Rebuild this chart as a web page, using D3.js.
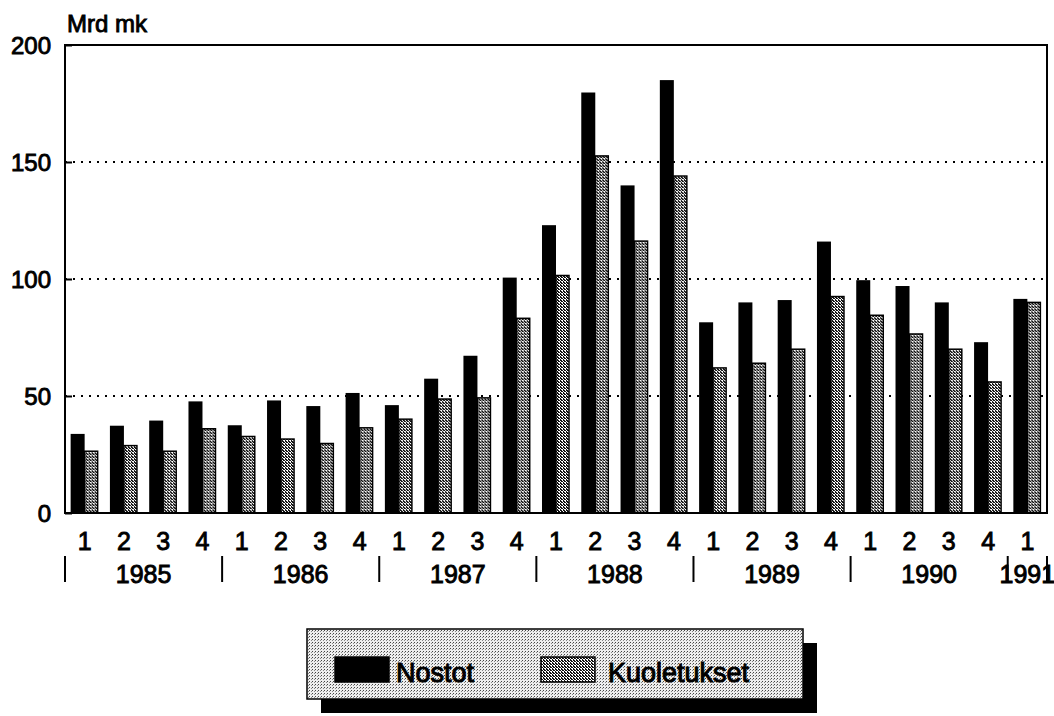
<!DOCTYPE html>
<html>
<head>
<meta charset="utf-8">
<script src="https://cdn.jsdelivr.net/npm/d3@7"></script>
<style>
  body { margin: 0; background: #fff; }
  text { font-family: "Liberation Sans", Arial, Helvetica, sans-serif; fill: #000; }
</style>
</head>
<body>
<script>
//chart values
var years = ['1985', '1986', '1987', '1988', '1989', '1990', '1991'];
var quarters = ['1', '2', '3', '4', '1', '2', '3', '4', '1', '2', '3', '4', '1', '2', '3', '4',
                '1', '2', '3', '4', '1', '2', '3', '4', '1'];
var nostot = [33.8, 37.3, 39.5, 47.7, 37.5, 48.1, 45.7, 51.3, 46.1, 57.4, 67.2, 100.6,
              123, 179.7, 140, 185, 81.5, 90, 91, 116, 99.5, 97, 90, 73, 91.5];
var kuoletukset = [26.4, 28.8, 26.4, 36, 32.7, 31.6, 29.7, 36.4, 40.1, 48.7, 49.2, 83.2,
                   101.5, 152.6, 116.2, 144, 62, 64, 70, 92.5, 84.5, 76.5, 70, 56, 90];
var yTicks = [0, 50, 100, 150, 200];
var seriesNames = ['Nostot', 'Kuoletukset'];
var unitLabel = 'Mrd mk';

//declare width, height, plot box
var width = 1054,
    height = 716,
    plotL = 65,
    plotR = 1047,
    plotT = 45,
    plotB = 513,
    ink = 0.9;

var svg = d3.select('body').append('svg')
    .attr('width', width)
    .attr('height', height);

//fill patterns: dithered bars and legend background
var defs = svg.append('defs');
var checker = defs.append('pattern')
    .attr('id', 'checker')
    .attr('patternUnits', 'userSpaceOnUse')
    .attr('width', 3).attr('height', 3);
checker.append('rect').attr('width', 3).attr('height', 3).attr('fill', '#fff');
checker.append('rect').attr('x', 0).attr('y', 0).attr('width', 2).attr('height', 1).attr('fill', '#111');
checker.append('rect').attr('x', 1).attr('y', 1).attr('width', 2).attr('height', 1).attr('fill', '#111');
checker.append('rect').attr('x', 0).attr('y', 2).attr('width', 1).attr('height', 1).attr('fill', '#111');

var dots = defs.append('pattern')
    .attr('id', 'dots')
    .attr('patternUnits', 'userSpaceOnUse')
    .attr('width', 3).attr('height', 3);
dots.append('rect').attr('width', 3).attr('height', 3).attr('fill', '#eee');
dots.append('rect').attr('x', 0).attr('y', 0).attr('width', 1).attr('height', 1).attr('fill', '#444');
dots.append('rect').attr('x', 2).attr('y', 1).attr('width', 1).attr('height', 1).attr('fill', '#888');

//scales
var idx = d3.range(quarters.length);
var x0 = d3.scaleBand()
    .domain(idx)
    .range([plotL, plotR])
    .paddingInner(0.287)
    .paddingOuter(0.1435);
var x1 = d3.scaleBand()
    .domain(seriesNames)
    .range([0, x0.bandwidth()]);
var y = d3.scaleLinear()
    .domain([0, 200])
    .range([plotB, plotT]);
var step = x0.step();

//dotted grid lines
svg.append('g').selectAll('line')
    .data([50, 100, 150])
    .enter().append('line')
    .attr('x1', plotL).attr('x2', plotR)
    .attr('y1', function(d){ return y(d); })
    .attr('y2', function(d){ return y(d); })
    .attr('stroke', '#000')
    .attr('stroke-width', 2)
    .attr('stroke-dasharray', '2,6');

//bars
var groups = svg.append('g').selectAll('g')
    .data(idx)
    .enter().append('g')
    .attr('transform', function(i){ return 'translate(' + x0(i) + ',0)'; });

groups.append('rect')
    .attr('x', x1('Nostot'))
    .attr('width', x1.bandwidth())
    .attr('y', function(i){ return y(nostot[i]); })
    .attr('height', function(i){ return plotB - y(nostot[i]); })
    .attr('fill', '#000');

groups.append('rect')
    .attr('x', x1('Kuoletukset'))
    .attr('width', x1.bandwidth() - 1)
    .attr('y', function(i){ return y(kuoletukset[i]); })
    .attr('height', function(i){ return plotB - y(kuoletukset[i]); })
    .attr('fill', 'url(#checker)')
    .attr('stroke', '#000')
    .attr('stroke-width', 1.5);

//frame round the plot
svg.append('rect')
    .attr('x', plotL).attr('y', plotT)
    .attr('width', plotR - plotL).attr('height', plotB - plotT)
    .attr('fill', 'none')
    .attr('stroke', '#000')
    .attr('stroke-width', 2);

//y axis
var yAxis = d3.axisLeft(y)
    .tickValues(yTicks)
    .tickSize(-7)
    .tickPadding(14)
    .tickFormat(d3.format('d'));
var ya = svg.append('g')
    .attr('transform', 'translate(' + plotL + ',0)')
    .call(yAxis);
ya.select('.domain').remove();
ya.selectAll('line').attr('stroke', '#000').attr('stroke-width', 2);
ya.selectAll('text')
    .style('font-size', '24px')
    .attr('dy', '0.36em')
    .attr('stroke', '#000')
    .attr('stroke-width', ink);

svg.append('text')
    .attr('x', 67).attr('y', 32)
    .style('font-size', '24px')
    .attr('stroke', '#000')
    .attr('stroke-width', ink)
    .text(unitLabel);

//quarter labels
svg.append('g').selectAll('text')
    .data(idx)
    .enter().append('text')
    .attr('x', function(i){ return x0(i) + x0.bandwidth() / 2; })
    .attr('y', 550)
    .attr('text-anchor', 'middle')
    .style('font-size', '25px')
    .attr('stroke', '#000')
    .attr('stroke-width', ink)
    .text(function(i){ return quarters[i]; });

//year labels and separators
svg.append('g').selectAll('text')
    .data(years)
    .enter().append('text')
    .attr('x', function(d, k){
      var n = Math.min(4, quarters.length - k * 4);
      return plotL + step * (k * 4 + n / 2);
    })
    .attr('y', 583)
    .attr('text-anchor', 'middle')
    .style('font-size', '25px')
    .attr('stroke', '#000')
    .attr('stroke-width', ink)
    .text(function(d){ return d; });

var seps = d3.range(years.length).map(function(k){ return plotL + step * k * 4; });
seps.push(plotR);
svg.append('g').selectAll('line')
    .data(seps)
    .enter().append('line')
    .attr('x1', function(d){ return d; })
    .attr('x2', function(d){ return d; })
    .attr('y1', 556).attr('y2', 582)
    .attr('stroke', '#000')
    .attr('stroke-width', 2);

//legend with drop shadow
var lg = svg.append('g');
lg.append('rect')
    .attr('x', 321).attr('y', 643)
    .attr('width', 496).attr('height', 70)
    .attr('fill', '#000');
lg.append('rect')
    .attr('x', 307).attr('y', 629)
    .attr('width', 496).attr('height', 70)
    .attr('fill', 'url(#dots)')
    .attr('stroke', '#000')
    .attr('stroke-width', 1.5);

var legendItems = [
  { name: seriesNames[0], sx: 335, tx: 396, fill: '#000' },
  { name: seriesNames[1], sx: 541, tx: 608, fill: 'url(#checker)' }
];
lg.selectAll('.sw')
    .data(legendItems)
    .enter().append('rect')
    .attr('class', 'sw')
    .attr('x', function(d){ return d.sx; })
    .attr('y', 657)
    .attr('width', 54).attr('height', 25)
    .attr('fill', function(d){ return d.fill; })
    .attr('stroke', '#000')
    .attr('stroke-width', 1.5);
lg.selectAll('.lt')
    .data(legendItems)
    .enter().append('text')
    .attr('class', 'lt')
    .attr('x', function(d){ return d.tx; })
    .attr('y', 682)
    .style('font-size', '27px')
    .attr('stroke', '#000')
    .attr('stroke-width', 1)
    .text(function(d){ return d.name; });
</script>
</body>
</html>
